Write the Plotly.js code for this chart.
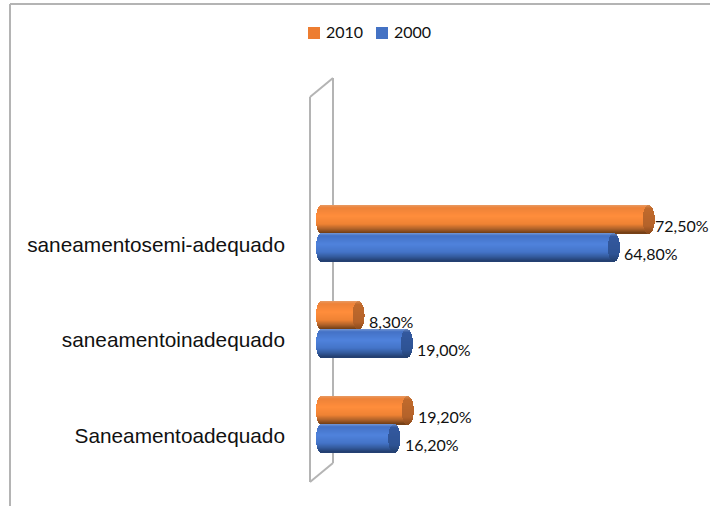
<!DOCTYPE html>
<html><head><meta charset="utf-8">
<script src="https://cdn.plot.ly/plotly-3.0.1.min.js"></script>
<style>html,body{margin:0;padding:0;background:#fff;overflow:hidden}#c{width:710px;height:506px}</style>
</head><body><div id="c"></div>
<script>
const categories = ['Saneamentoadequado', 'saneamentoinadequado', 'saneamentosemi-adequado'];
const values2010 = [19.2, 8.3, 72.5];
const values2000 = [16.2, 19.0, 64.8];
const labels2010 = ['19,20%', '8,30%', '72,50%'];
const labels2000 = ['16,20%', '19,00%', '64,80%'];

const W = 710, H = 506;
const plot = {l: 287, r: 710, t: 60, b: 490};
const zeroPx = 321, pxPerUnit = 4.52, rowPx = 95.5, row0Px = 424.5;
const xRange = [(plot.l - zeroPx) / pxPerUnit, (plot.r - zeroPx) / pxPerUnit];
const yRange = [(row0Px - plot.b) / rowPx, (row0Px - plot.t) / rowPx];
const barH = 28 / rowPx, rx = 5 / pxPerUnit, capRx = 6 / pxPerUnit;
const N = 28;

const px = v => (v - plot.l) / (plot.r - plot.l);
const py = v => (plot.b - v) / (plot.b - plot.t);

const styles = [
  {name: '2010', vals: values2010, labels: labels2010, dir: 1, base: '#ED7D31', cap: [[0, '#d98a50'], [.12, '#c06a2c'], [.75, '#b4622a'], [1, '#8a4a1c']],
   stops: [[0, '#e89a62'], [.1, '#ee8238'], [.4, '#ff8d3b'], [.68, '#ef8233'], [.85, '#b0622a'], [1, '#6f3d14']]},
  {name: '2000', vals: values2000, labels: labels2000, dir: -1, base: '#4472C4', cap: [[0, '#6d8cc4'], [.12, '#33589e'], [.75, '#2e5394'], [1, '#23406f']],
   stops: [[0, '#7396d4'], [.1, '#4472c6'], [.4, '#4f82dc'], [.68, '#4474c8'], [.85, '#335a9c'], [1, '#223c6c']]}
];

function mix(stops, t) {
  for (let i = 1; i < stops.length; i++) {
    if (t <= stops[i][0]) {
      const a = stops[i - 1], b = stops[i], f = (t - a[0]) / (b[0] - a[0]);
      const ca = [1, 3, 5].map(k => parseInt(a[1].substr(k, 2), 16));
      const cb = [1, 3, 5].map(k => parseInt(b[1].substr(k, 2), 16));
      return 'rgb(' + ca.map((c, j) => Math.round(c + (cb[j] - c) * f)).join(',') + ')';
    }
  }
  return stops[stops.length - 1][1];
}

const rows = categories.map((_, i) => i);
const traces = [];
styles.forEach(s => {
  traces.push({type: 'bar', orientation: 'h', name: s.name, x: s.vals, y: rows.map(r => r + s.dir * barH / 2),
    width: barH * 0.8, marker: {color: s.base, line: {width: 0}}, hoverinfo: 'x+name'});
});
// Cylinder shading: thin strips for the body and the elliptical caps
styles.forEach(s => {
  const bx = [], by = [], bb = [], bc = [], cx = [], cy = [], cb = [], cc = [];
  rows.forEach(r => {
    for (let k = 0; k < N; k++) {
      const t = (k + .5) / N, e = Math.sqrt(Math.max(0, 1 - (2 * t - 1) * (2 * t - 1)));
      const yy = r + s.dir * barH / 2 + barH * (.5 - t);
      const start = -rx * e, end = s.vals[r] + capRx * e;
      bb.push(start); bx.push(end - start); by.push(yy); bc.push(mix(s.stops, t));
      cb.push(s.vals[r] - capRx * e); cx.push(2 * capRx * e); cy.push(yy); cc.push(mix(s.cap, t));
    }
  });
  const common = {type: 'bar', orientation: 'h', width: barH / N * 1.15, showlegend: false, hoverinfo: 'skip'};
  traces.push(Object.assign({}, common, {x: bx, y: by, base: bb, marker: {color: bc, line: {width: 0}}}));
  traces.push(Object.assign({}, common, {x: cx, y: cy, base: cb, marker: {color: cc, line: {width: 0}}}));
});

const wallColor = '#b4b4b4';
const line = (x0, y0, x1, y1, w) => ({type: 'line', xref: 'paper', yref: 'paper', layer: 'below',
  x0: px(x0), y0: py(y0), x1: px(x1), y1: py(y1), line: {color: wallColor, width: w || 2}});
const shapes = [
  line(10, 4, 710, 4), line(10, 4, 10, 506),
  line(310, 97, 333, 78), line(333, 78, 333, 463), line(333, 463, 310, 482), line(310, 482, 310, 97)
];

const labelFont = {family: 'Lato, Carlito, sans-serif', size: 16, color: '#111'};
const annotations = [];
styles.forEach(s => rows.forEach(r => {
  // The longest bar's label is nudged left so that it stays inside the page
  const nudge = s.vals[r] === Math.max(...values2010, ...values2000) ? 4 : 0;
  annotations.push({x: s.vals[r], y: r + s.dir * barH / 2, text: s.labels[r], showarrow: false,
    xanchor: 'left', yanchor: 'middle', xshift: 8.5 - nudge, yshift: -6, font: labelFont});
}));

// Legend: swatch plus text, tighter than the built-in legend allows
const legendX = [308, 376];
styles.forEach((s, i) => {
  shapes.push({type: 'rect', xref: 'paper', yref: 'paper', x0: px(legendX[i]), x1: px(legendX[i] + 12),
    y0: py(27), y1: py(39), fillcolor: s.base, line: {width: 0}});
  annotations.push({xref: 'paper', yref: 'paper', x: px(legendX[i] + 16), y: py(32), text: s.name, showarrow: false,
    xanchor: 'left', yanchor: 'middle', font: labelFont});
});

Plotly.newPlot('c', traces, {
  width: W, height: H, showlegend: false, barmode: 'overlay',
  margin: {l: plot.l, r: W - plot.r, t: plot.t, b: H - plot.b, pad: 0},
  paper_bgcolor: '#fff', plot_bgcolor: 'rgba(0,0,0,0)',
  xaxis: {range: xRange, visible: false, fixedrange: true},
  yaxis: {range: yRange, tickmode: 'array', tickvals: rows.map(r => r - 0.115), ticktext: categories, showgrid: false, zeroline: false,
    showline: false, ticks: '', fixedrange: true, ticklabelstandoff: 1,
    tickfont: {family: '"Liberation Sans", Arial, sans-serif', size: 20.8, color: '#111'}},
  shapes, annotations, hovermode: 'closest', bargap: 0
}, {displayModeBar: false, responsive: false});
</script></body></html>
